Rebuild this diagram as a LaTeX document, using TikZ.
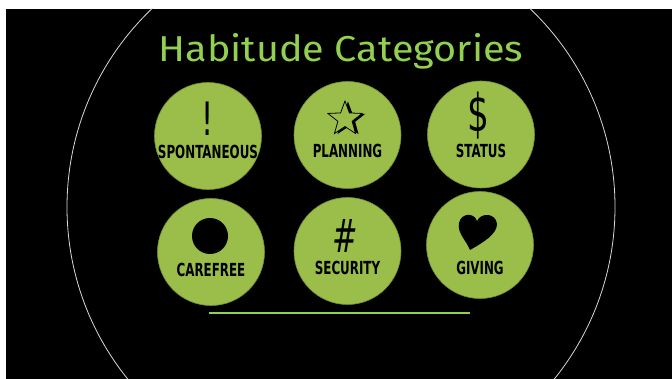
\documentclass[tikz,border=0pt]{standalone}
\usepackage{fontspec}
\setmainfont{Fira Sans}
\newfontfamily\titlefont[FakeStretch=1.1]{Fira Sans}
\newfontfamily\catfont[FakeStretch=0.66]{DejaVu Sans}
\usetikzlibrary{shapes.geometric}

\definecolor{catgreen}{RGB}{155,190,75}
\definecolor{titlegreen}{RGB}{146,208,80}

\tikzset{
  catdisc/.style={circle,fill=catgreen,draw=catgreen!75!black,line width=0.6pt,
    minimum size=107pt,inner sep=0pt},
  catlabel/.style={anchor=base,inner sep=0pt,font=\catfont\bfseries\fontsize{18}{18}\selectfont},
  catsym/.style={inner sep=0pt,font=\catfont\fontsize{46}{46}\selectfont},
  starsym/.style={star,star points=5,star point ratio=2.4,minimum size=36pt,inner sep=0pt}
}

\begin{document}
\begin{tikzpicture}[x=1pt,y=-1pt]
    \useasboundingbox (0,0) rectangle (672,379);
    \fill[black] (6,9) rectangle (672,379);
    % large outline circle, cut off by the frame
    \begin{scope}
      \clip (6,9) rectangle (672,379);
      \draw[white!85!black,line width=0.8pt] (341,207) circle (274);
    \end{scope}
    \node[anchor=base,text=titlegreen,font=\titlefont\fontsize{36}{36}\selectfont] (title) at (341,62) {Habitude Categories};
    % the six discs with their labels
    \foreach \nm/\cx/\cy/\lbl/\base in {spont/208/136/SPONTANEOUS/159,plan/347.5/135/PLANNING/158,
        status/481/134.5/STATUS/158,care/211/252/CAREFREE/277,secur/347.5/251/SECURITY/275,
        give/480/245/GIVING/275} {
      \node[catdisc] (\nm) at (\cx,\cy) {};
      \node[catlabel] (\nm-label) at (\cx,\base) {\lbl};
    }
    % symbols
    \node[catsym] (bang) at (208,119) {!};
    \node[starsym,fill=black] (star-shade) at (348,119.5) {};
    \node[starsym,fill=catgreen,draw=black,line width=0.8pt] (star) at (345,119) {};
    \node[catsym,font=\catfont\fontsize{52}{52}\selectfont] (dollar) at (478,116) {\$};
    \node[circle,fill=black,minimum size=36pt,inner sep=0pt] (dot) at (210,236) {};
    \node[catsym,font=\catfont\itshape\fontsize{46}{46}\selectfont] (hash) at (345.5,235.5) {\#};
    \fill[black] (470,250) .. controls (466,240) and (457,233) .. (459,223)
      .. controls (461,213) and (474,212) .. (477,221)
      .. controls (481,212) and (496,213) .. (497,224)
      .. controls (497,234) and (484,242) .. (470,250) -- cycle;
    \coordinate (rule-l) at (209,313);
    \coordinate (rule-r) at (470,313);
    \draw[titlegreen,line width=1.8pt] (rule-l) -- (rule-r);
  \end{tikzpicture}
\end{document}
